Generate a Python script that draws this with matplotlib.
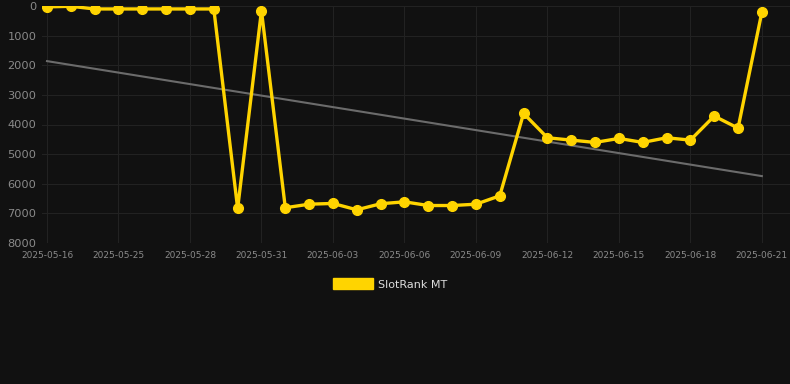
import numpy as np
import matplotlib.pyplot as plt

# Data (rank, lower is better)
dates = ['2025-05-16', '2025-05-23', '2025-05-24', '2025-05-25', '2025-05-26', '2025-05-27',
         '2025-05-28', '2025-05-29', '2025-05-30', '2025-05-31', '2025-06-01', '2025-06-02',
         '2025-06-03', '2025-06-04', '2025-06-05', '2025-06-06', '2025-06-07', '2025-06-08',
         '2025-06-09', '2025-06-10', '2025-06-11', '2025-06-12', '2025-06-13', '2025-06-14',
         '2025-06-15', '2025-06-16', '2025-06-17', '2025-06-18', '2025-06-19', '2025-06-20',
         '2025-06-21']
ranks = [30, 10, 100, 100, 100, 100, 100, 100, 6835, 160,
         6810, 6690, 6665, 6880, 6675, 6610, 6735, 6735, 6690, 6408,
         3627, 4448, 4527, 4605, 4470, 4605, 4448, 4527, 3716, 4122,
         203]
y_ticks = [0, 1000, 2000, 3000, 4000, 5000, 6000, 7000, 8000]

bg = '#111111'
x = np.arange(len(dates))

fig = plt.figure(figsize=(7.9, 3.84), dpi=100, facecolor=bg)
ax = fig.add_axes([42 / 790, (384 - 243) / 384, 1 - 42 / 790, (243 - 6) / 384])
ax.set_facecolor(bg)

# Trend line (linear fit)
k, b = np.polyfit(x, ranks, 1)
ax.plot(x, k * x + b, color='#6b6b6b', lw=1.5, zorder=2)

ax.plot(x, ranks, color='#FFD400', lw=2.4, marker='o', markersize=7,
        zorder=3, solid_joinstyle='miter')

ax.set_ylim(8000, 0)
ax.set_xlim(-0.21, 31.18)
ax.set_yticks(y_ticks)
ax.set_xticks(x[::3])
ax.set_xticklabels(dates[::3])
ax.tick_params(axis='y', colors='#8a8a8a', labelsize=8.2, length=0, pad=4)
ax.tick_params(axis='x', colors='#8a8a8a', labelsize=6.5, length=0, pad=6)
ax.grid(True, color='#222222', lw=0.8)
for s in ax.spines.values():
    s.set_visible(False)

# Legend below the plot
fig.legend([plt.Rectangle((0, 0), 1, 1, color='#FFD400')], ['SlotRank MT'],
           loc='center', bbox_to_anchor=(0.5 - 5 / 790, 1 - 284 / 384), frameon=False,
           labelcolor='#dddddd', fontsize=8, handlelength=3.6, handleheight=1.1,
           handletextpad=0.5)

fig.savefig('out.png', dpi=100, facecolor=bg)
